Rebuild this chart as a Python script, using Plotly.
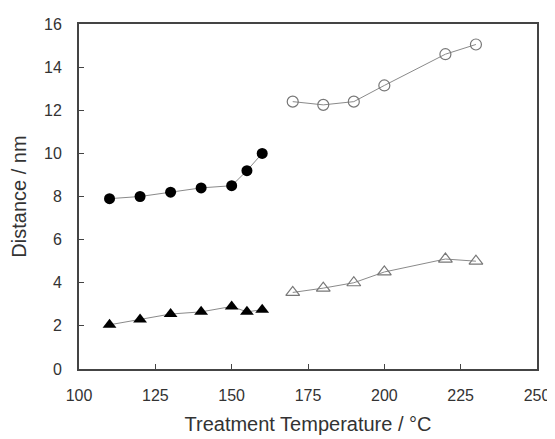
import plotly.graph_objects as go

x_low = [110, 120, 130, 140, 150, 155, 160]
x_high = [170, 180, 190, 200, 220, 230]
circ_low = [7.9, 8.0, 8.2, 8.4, 8.5, 9.2, 10.0]
circ_high = [12.4, 12.25, 12.4, 13.15, 14.6, 15.05]
tri_low = [2.05, 2.3, 2.55, 2.65, 2.9, 2.65, 2.75]
tri_high = [3.55, 3.75, 4.0, 4.5, 5.1, 5.0]

x_ticks = [100, 125, 150, 175, 200, 225, 250]
y_ticks = [0, 2, 4, 6, 8, 10, 12, 14, 16]

line_c = "#8a8a8a"
fig = go.Figure()
fig.add_trace(go.Scatter(x=x_low, y=circ_low, mode="lines+markers",
                         line=dict(color=line_c, width=1),
                         marker=dict(symbol="circle", size=11, color="black")))
fig.add_trace(go.Scatter(x=x_high, y=circ_high, mode="lines+markers",
                         line=dict(color=line_c, width=1),
                         marker=dict(symbol="circle-open", size=11, color="#777",
                                     line=dict(width=1.2))))
fig.add_trace(go.Scatter(x=x_low, y=tri_low, mode="lines+markers",
                         line=dict(color=line_c, width=1),
                         marker=dict(symbol="triangle-up", size=12, color="black")))
fig.add_trace(go.Scatter(x=x_high, y=tri_high, mode="lines+markers",
                         line=dict(color=line_c, width=1),
                         marker=dict(symbol="triangle-up-open", size=12, color="#777",
                                     line=dict(width=1.2))))

fnt = "Liberation Sans, Arial"
axis_common = dict(showgrid=False, zeroline=False, showline=True, linecolor="#444",
                   linewidth=2, mirror=True, ticks="inside", ticklen=5, tickwidth=1,
                   tickcolor="#444", automargin=False, ticklabeloverflow="allow",
                   tickfont=dict(family=fnt, size=16, color="#333"))
fig.update_xaxes(range=[100, 250], tickvals=x_ticks, ticktext=[str(v) for v in x_ticks],
                 title=dict(text="Treatment Temperature / °C", standoff=14,
                            font=dict(family=fnt, size=20, color="#333")),
                 ticklabelstandoff=11, **axis_common)
fig.update_yaxes(range=[0, 16], tickvals=y_ticks,
                 title=dict(text="Distance / nm", standoff=12,
                            font=dict(family=fnt, size=20, color="#333")),
                 ticklabelstandoff=12, **axis_common)
fig.update_layout(width=547, height=431, showlegend=False,
                  margin=dict(l=71, r=18, t=16, b=70),
                  plot_bgcolor="white", paper_bgcolor="white")
fig.write_html("out.html")
